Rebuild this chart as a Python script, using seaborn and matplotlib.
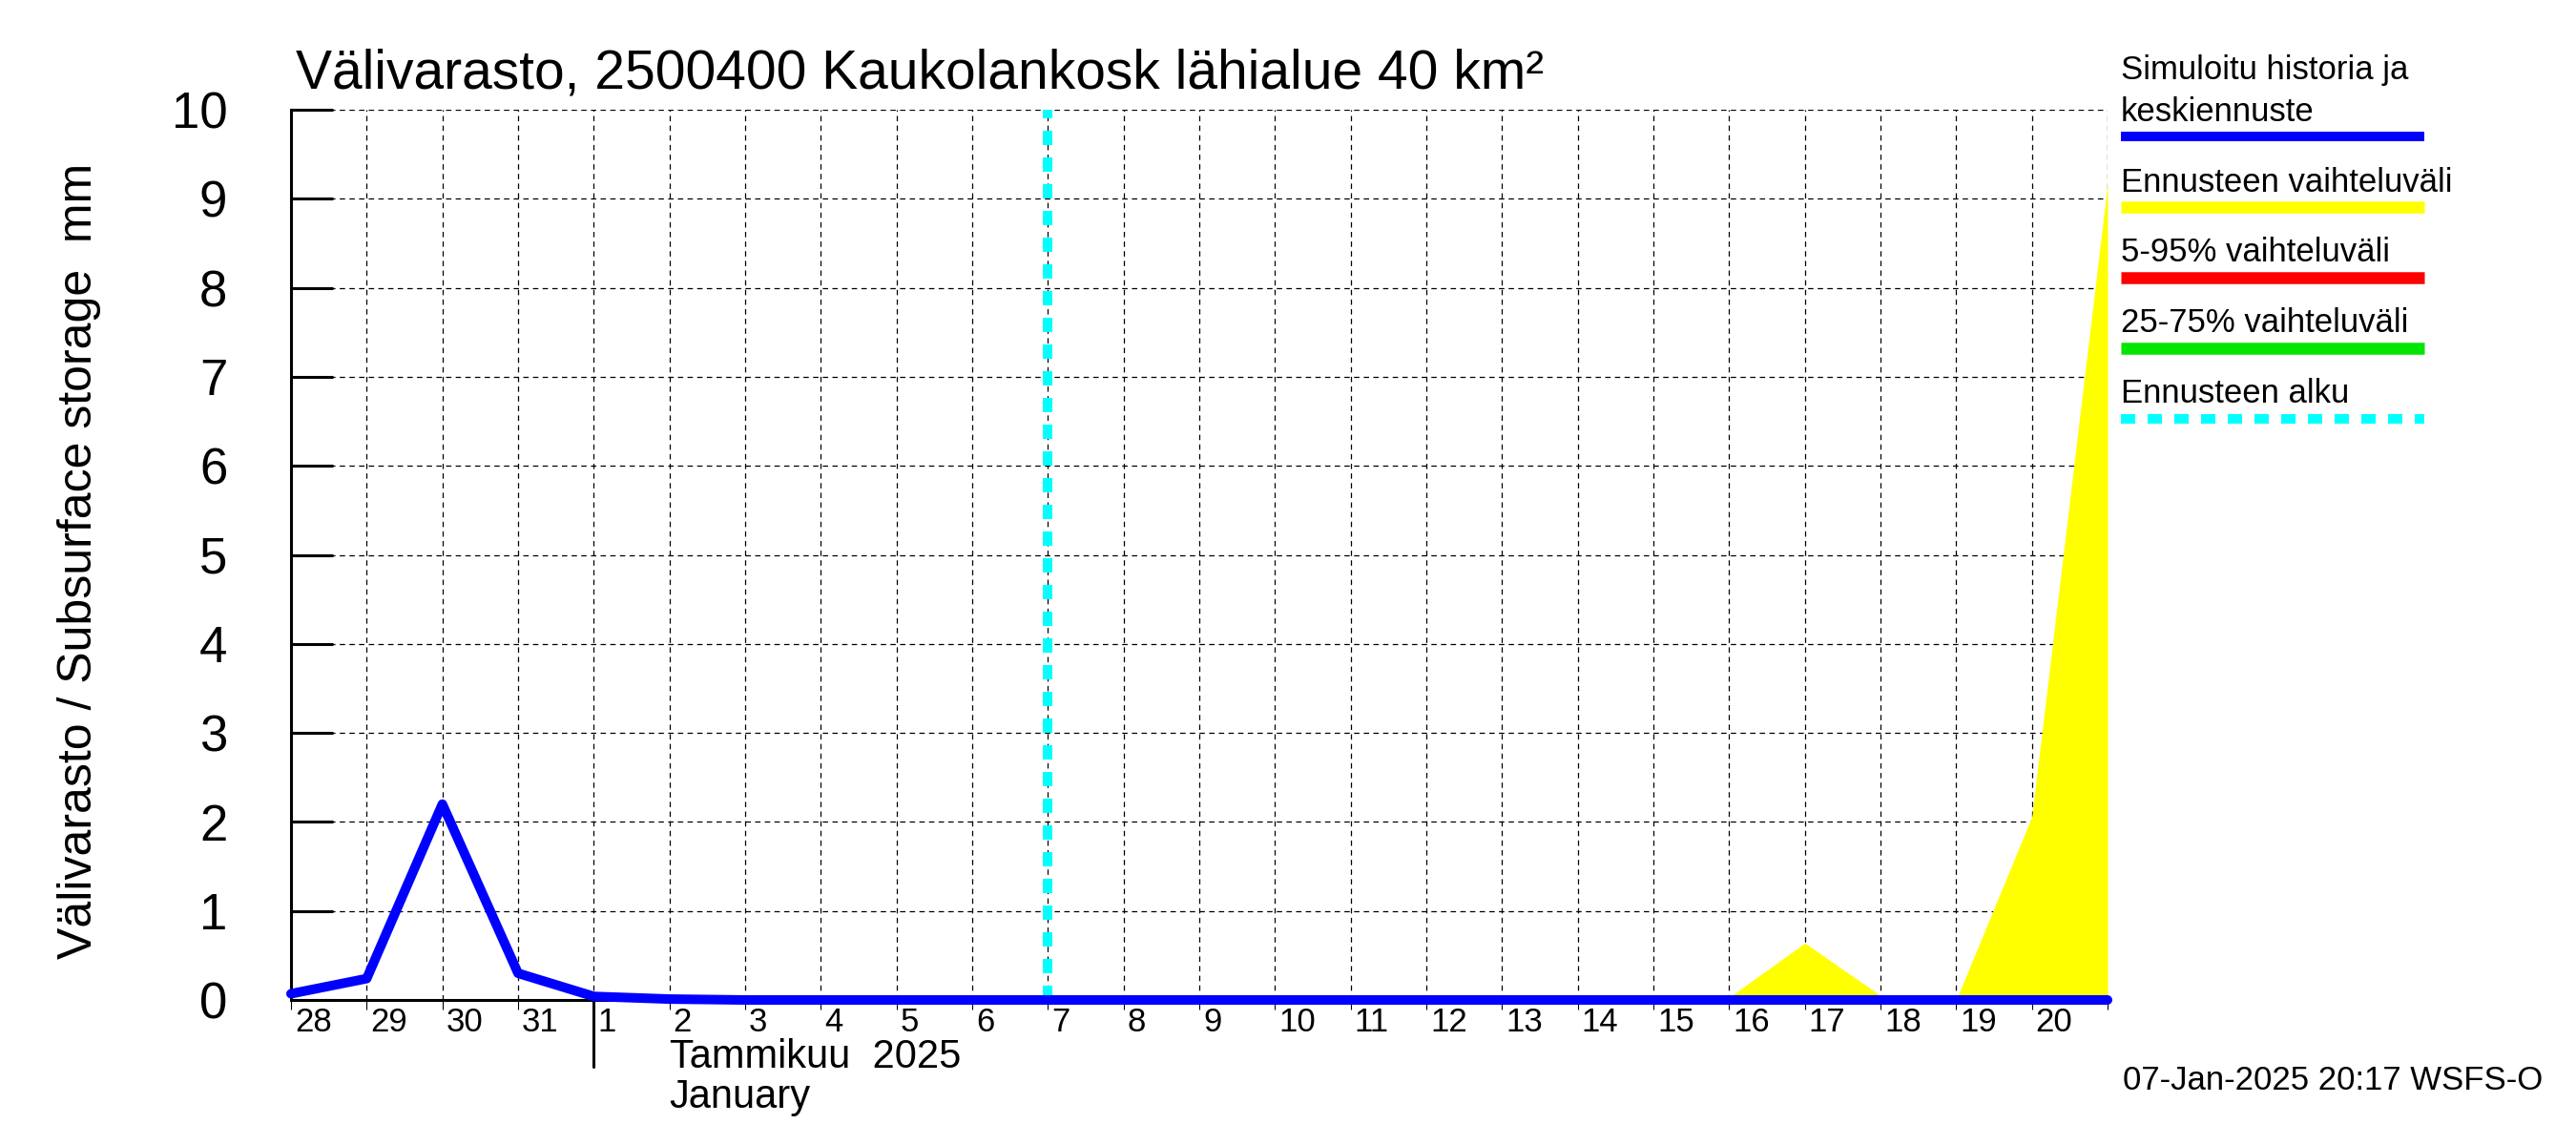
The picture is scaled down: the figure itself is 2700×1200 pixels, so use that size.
import matplotlib
matplotlib.use('Agg')
import matplotlib.pyplot as plt
import matplotlib.dates as mdates
import matplotlib.transforms as mtransforms
from matplotlib.lines import Line2D
import seaborn as sns
import pandas as pd

# ---------------- data ----------------
dates = pd.date_range('2024-12-28', '2025-01-21', freq='D')
sim_values = [0.07, 0.24, 2.20, 0.30, 0.04, 0.01, 0.00, 0.00, 0.00, 0.00,
              0.00, 0.00, 0.00, 0.00, 0.00, 0.00, 0.00, 0.00, 0.00, 0.00,
              0.00, 0.00, 0.00, 0.00, 0.00]
forecast_dates = pd.date_range('2025-01-07', '2025-01-21', freq='D')
range_upper = [0.00, 0.00, 0.00, 0.00, 0.00, 0.00, 0.00, 0.00, 0.00,
               0.03, 0.64, 0.05, 0.00, 2.06, 9.17]
range_lower = [0.00, 0.00, 0.00, 0.00, 0.00, 0.00, 0.00, 0.00, 0.00,
               0.00, 0.00, 0.00, 0.00, 0.00, 0.00]
forecast_start = pd.Timestamp('2025-01-07')
day_labels = ['28', '29', '30', '31', '1', '2', '3', '4', '5', '6', '7', '8', '9',
              '10', '11', '12', '13', '14', '15', '16', '17', '18', '19', '20', '']
long_tick_dates = pd.to_datetime(['2025-01-05', '2025-01-10', '2025-01-15', '2025-01-20'])
month_start = pd.Timestamp('2025-01-01')
month_label_date = pd.Timestamp('2025-01-02')
y_ticks = [0, 1, 2, 3, 4, 5, 6, 7, 8, 9, 10]

title = 'Välivarasto, 2500400 Kaukolankosk lähialue 40 km²'
ylabel = 'Välivarasto / Subsurface storage  mm'
month_text = 'Tammikuu  2025\nJanuary'
footer = '07-Jan-2025 20:17 WSFS-O'
legend_labels = ['Simuloitu historia ja\nkeskiennuste', 'Ennusteen vaihteluväli',
                 '5-95% vaihteluväli', '25-75% vaihteluväli', 'Ennusteen alku']
legend_colors = ['#0000ff', '#ffff00', '#ff0000', '#00e600', '#00ffff']

# ---------------- style ----------------
sns.set_theme(style='white')
plt.rcParams['font.family'] = ['Liberation Sans', 'DejaVu Sans']
plt.rcParams['axes.unicode_minus'] = False
plt.rcParams['text.color'] = 'black'
plt.rcParams['axes.labelcolor'] = 'black'
plt.rcParams['xtick.color'] = 'black'
plt.rcParams['ytick.color'] = 'black'

W, H = 2700, 1200
fig = plt.figure(figsize=(27, 12), dpi=100)
fig.patch.set_facecolor('white')

L, R, T, B = 305, 2209, 115, 1048
ax = fig.add_axes([L / W, 1 - B / H, (R - L) / W, (B - T) / H])
ax.set_facecolor('white')

# yellow forecast range
ax.fill_between(forecast_dates, range_lower, range_upper, color='#ffff00',
                linewidth=0, zorder=3)

# forecast start line
ax.axvline(forecast_start, color='#00ffff', lw=7.2, dashes=(1.5, 1.3), zorder=4)

# simulated history line
sns.lineplot(x=dates, y=sim_values, ax=ax, color='#0000ff', lw=7.2,
             clip_on=False, zorder=6, legend=False)

ax.set_xlim(dates[0], dates[-1])
ax.set_ylim(0, 10)
ax.set_xlabel('')

# grid
ax.set_xticks(dates)
ax.set_xticklabels(day_labels, ha='left')
ax.set_xticks(long_tick_dates, minor=True)
ax.set_yticks(y_ticks)
ax.set_yticklabels([str(v) for v in y_ticks])
ax.grid(True, which='major', color='black', lw=0.9, linestyle=(0, (4.5, 3.6)), zorder=1)
ax.grid(False, which='minor')
ax.set_axisbelow(True)

for s in ['top', 'right']:
    ax.spines[s].set_visible(False)
for s in ['left', 'bottom']:
    ax.spines[s].set_linewidth(2.2)
    ax.spines[s].set_color('black')
    ax.spines[s].set_zorder(5)

ax.tick_params(axis='y', direction='in', length=32, width=2.2, labelsize=38,
               pad=48, colors='black', left=True)
ax.tick_params(axis='x', which='major', direction='out', length=7.2, width=0.8,
               labelsize=25, pad=-2, colors='black', bottom=True)
ax.tick_params(axis='x', which='minor', direction='out', length=25, width=1.0,
               bottom=True, labelbottom=False)

offset = mtransforms.ScaledTranslation(4 / 100, 0, fig.dpi_scale_trans)
for lab in ax.get_xticklabels():
    lab.set_transform(lab.get_transform() + offset)

# month boundary tick
xm = mdates.date2num(month_start)
ax.plot([xm, xm], [0, -70 / (B - T)], transform=ax.get_xaxis_transform(),
        color='black', lw=2.2, clip_on=False, zorder=5)

# month label
ax.text(mdates.date2num(month_label_date), -40 / (B - T), month_text,
        transform=ax.get_xaxis_transform(), ha='left', va='top', fontsize=30,
        linespacing=1.08, color='black')

# y label
ax.set_ylabel(ylabel, fontsize=36, color='black')
ax.yaxis.set_label_coords((106 - L) / (R - L), (B - 588) / (B - T))

# title
fig.text(310 / W, 1 - 93 / H, title, fontsize=41, va='baseline', ha='left', color='black')

# legend (manual)
def fx(x):
    return x / W

def fy(y):
    return 1 - y / H

lx0, lx1 = 2223, 2541
line_ys = [143, 217, 291, 365, 439]
text_ys = [83, 201, 274, 348, 422]
line_ws = [7.2, 9, 9, 9, 7.2]
for i, (lab, col) in enumerate(zip(legend_labels, legend_colors)):
    if i == 0:
        fig.text(fx(lx0), fy(83), 'Simuloitu historia ja', fontsize=25, va='baseline', color='black')
        fig.text(fx(lx0), fy(127), 'keskiennuste', fontsize=25, va='baseline', color='black')
    else:
        fig.text(fx(lx0), fy(text_ys[i]), lab, fontsize=25, va='baseline', color='black')
    kw = dict(color=col, lw=line_ws[i], solid_capstyle='butt')
    if i == 4:
        kw['dashes'] = (1.5, 1.3)
        kw['dash_capstyle'] = 'butt'
    fig.add_artist(Line2D([fx(lx0), fx(lx1)], [fy(line_ys[i]), fy(line_ys[i])],
                          transform=fig.transFigure, **kw))

# footer
fig.text(2225 / W, 1 - 1142 / H, footer, fontsize=25, va='baseline', ha='left', color='black')

fig.savefig('out.png', dpi=100, facecolor='white')
